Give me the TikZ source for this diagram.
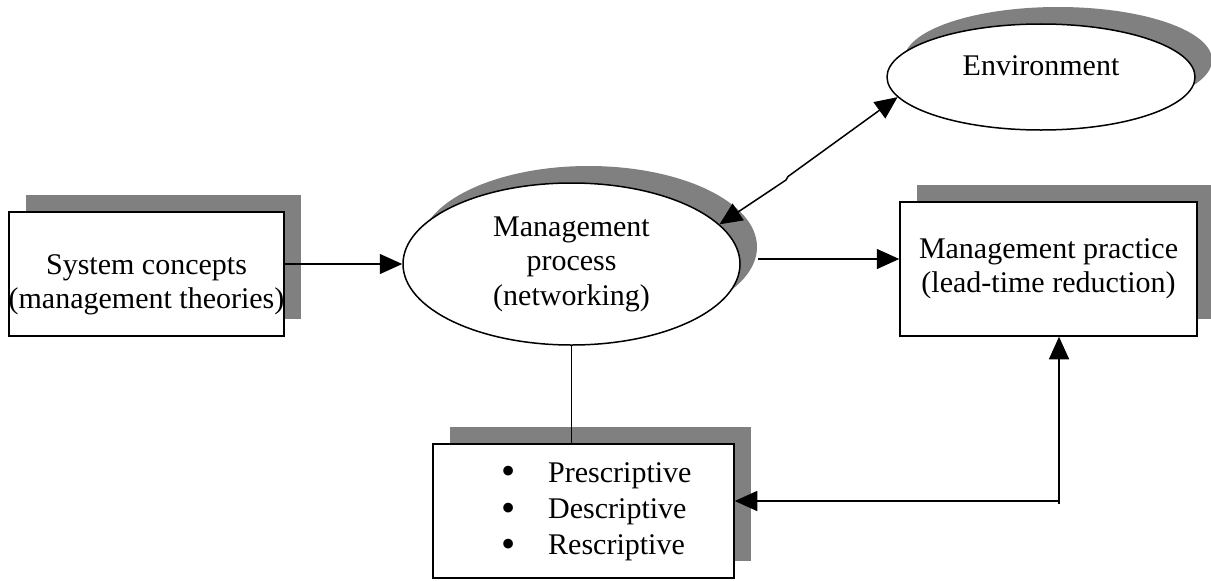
\documentclass[tikz,border=0pt]{standalone}
\usepackage{fontspec}
\setmainfont{Liberation Serif}
\usetikzlibrary{arrows.meta, shapes.geometric, shadows}
\definecolor{shadowgray}{gray}{0.5}
\newcommand{\bigdot}{\raisebox{-1.1pt}[0pt][0pt]{\scalebox{1.35}{\textbullet}}}

\begin{document}
\begin{tikzpicture}[x=0.4pt,y=-0.4pt,
    font=\fontsize{12}{13.8}\selectfont, line width=0.6pt,
    boxshadow/.style={general shadow={fill=shadowgray, shadow xshift=6.8pt, shadow yshift=6.8pt}},
    block/.style={draw, fill=white, rectangle, boxshadow, inner sep=0pt, align=center},
    oval/.style={draw, fill=white, ellipse, boxshadow, inner sep=0pt, align=center},
    flow/.style={-{Triangle[length=9pt,width=8pt]}},
    twoway/.style={{Triangle[length=9pt,width=8pt]}-{Triangle[length=9pt,width=8pt]}}]
  \useasboundingbox (0,0) rectangle (1211,580);

  \node[block, minimum width=110pt, minimum height=49.6pt,
        label={[align=center, yshift=-4.4pt]center:System concepts\\(management theories)}]
        (sys) at (146.5,274) {};
  \node[oval, minimum width=134.8pt, minimum height=64.8pt]
        (proc) at (571.5,264) {Management\\process\\(networking)};
  \node[oval, minimum width=123.2pt, minimum height=42.4pt,
        label={[yshift=4.4pt]center:Environment}]
        (env) at (1041,77) {};
  \node[block, minimum width=118.8pt, minimum height=53.6pt]
        (prac) at (1048.5,269) {Management practice\\(lead-time reduction)};
  \node[block, minimum width=120.4pt, minimum height=53.6pt]
        (types) at (583.5,511)
        {\hspace*{10.4pt}\renewcommand{\arraystretch}{1.05}%
         \begin{tabular}{@{}c@{\hspace{13pt}}l@{}}
           \bigdot & Prescriptive\\
           \bigdot & Descriptive\\
           \bigdot & Rescriptive
         \end{tabular}};

  \coordinate (procOut) at ([shift={(6.8pt,2pt)}]proc.east);
  \coordinate (turn) at (1059,501);
  \coordinate (jogTop) at (788,176.5);
  \coordinate (jogLow) at (786,180);

  \draw[flow] (sys.east |- proc.west) -- (proc.west);
  \draw[flow] (procOut) -- (procOut -| prac.west);
  \draw[twoway] (env.188) -- (jogTop) -- (jogLow) -- (proc.15);
  \draw (proc.south) -- (proc.south |- types.north);
  \draw[flow] (turn) -- (turn -| types.east);
  \draw[flow] ([yshift=-1.2pt]turn) -- (turn |- prac.south);
\end{tikzpicture}
\end{document}
